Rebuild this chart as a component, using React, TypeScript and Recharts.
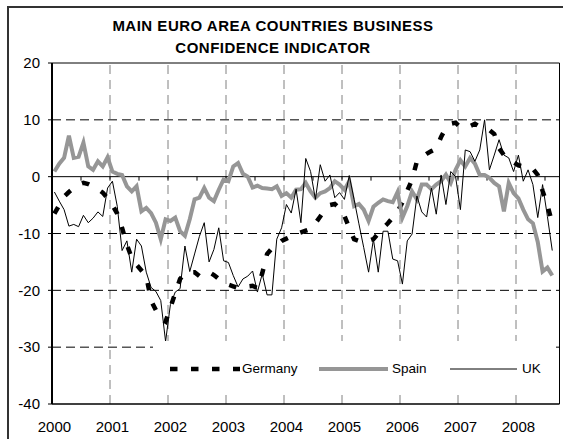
import { LineChart, Line, XAxis, YAxis, ReferenceLine } from "recharts"

// monthly readings, Jan 2000 .. Aug 2008
const germany = [
  -6.5, -5, -3.5, -2.7, -2, -1.4, -1.1, -1.3, -1.7, -2.2, -2.8, -3.8,
  -5, -6.5, -9, -12, -14.3, -15.5, -16.5, -17.5, -21.8, -23.5, -25, -25.5,
  -23, -20.5, -18, -17, -16.8, -16.8, -17.5, -17.2, -16.8, -17.3, -18, -18.5,
  -19, -19.3, -19.6, -19.5, -19.3, -19.2, -19.6, -17, -13.6, -12.6, -12, -11.3,
  -10.9, -10.5, -10.1, -9.8, -9.5, -9.2, -8.2, -7, -5.8, -5, -4.8, -5.6,
  -6.9, -9, -11, -11.3, -11.4, -11.3, -11, -10, -9, -8.2, -7.2, -6.2,
  -4.5, -2.5, -0.5, 2.7, 3.4, 4, 4.5, 4.9, 7, 8.6, 9.3, 9.5,
  8.7, 8.8, 8.9, 9.3, 8.8, 8.5, 8.2, 7.5, 5, 3.8, 3.2, 2.5,
  2, 1.8, 1.7, 1.4, 0.3, -2.5, -5, -8.2,
]

const spain = [
  0.9, 2.3, 3.3, 7.2, 3.3, 3.5, 6.0, 1.8, 1.2, 2.7, 1.8, 3.4,
  0.9, 0.5, 0.3, -1.7, -2.6, -1.7, -6.1, -5.5, -6.4, -8.1, -11, -7.5,
  -7.8, -7.2, -9.6, -10.4, -7.5, -4, -3.7, -2, -3.7, -4.3, -2.3, -0.5,
  -0.8, 1.8, 2.4, 0.5, 0, -1.9, -1.6, -2, -2.1, -2.2, -1.7, -3.4,
  -2.9, -3.7, -2.3, -2.2, -1.1, -2.6, -3.7, -2.9, -2.6, -2, -0.8, -1.4,
  -2.3, -0.8, -5.2, -4.8, -5.8, -7.8, -5.3, -4.6, -4.0, -4.3, -4.5, -2.7,
  -7.2, -5.2, -2.6, -4, -1.4, -1.4, -2.2, -1.4, -0.8, 0.35, -1.1, 1.2,
  2.9, 1.8, 3.3, 2.3, 0.3, 0.3, -0.2, -1.1, -1.7, -6.1, -1.1, -2.9,
  -3.8, -5.8, -7.5, -8.2, -11.5, -16.7, -16, -17.4,
]

const uk = [
  -2.7, -4.3, -5.8, -8.7, -8.4, -8.8, -6.8, -8.1, -7.3, -6.2, -7, -2,
  -0.8, -5.2, -13, -11.3, -16.8, -11, -12.2, -16.8, -19.5, -20.2, -21.8, -29,
  -22.5, -20.3, -19.7, -12.2, -16.7, -13.6, -10.5, -8.1, -15, -12.8, -9, -14.8,
  -15.1, -17.4, -19.4, -18, -17.5, -16.6, -20.3, -17.1, -20.8, -20.8, -11, -9,
  -4.9, -6.4, -2.2, -8.1, 3.2, 0.9, -4, 2.1, -0.8, 0.3, -3.7, -2.8,
  -4, 0.2, -4, -8.3, -12.5, -16.8, -11, -16.8, -9.6, -9.6, -14.5, -14.8,
  -18.9, -11.3, -10.1, -3.4, -6.2, -7.1, -2, -6.6, 0.3, -4.9, 0.9, 0,
  -5.8, 4.7, 4.4, 2.7, 4.7, 10, 1.2, 3.8, 6.5, 3.8, 3.3, 0.9,
  3.8, -0.8, 1.2, -1.4, -7.2, -1.4, -7, -13,
]

const years = ["2000", "2001", "2002", "2003", "2004", "2005", "2006", "2007", "2008"]
const yTicks = [-40, -30, -20, -10, 0, 10, 20]
const dashedLevels = [10, -10, -20, -30]
const MONTHS = 105

const data = germany.map((g, i) => ({ t: i + 0.5, germany: g, spain: spain[i], uk: uk[i] }))
const yearTicks = years.map((_, i) => i * 12 + 0.5)
const yearBounds = years.slice(1).map((_, i) => (i + 1) * 12)
const halfYears = Array.from({ length: 17 }, (_, i) => (i + 1) * 6)

const font = "'Liberation Sans', Arial, sans-serif"
const GER_DASH = "7.5 13.5"

const legendItems = [
  { name: "Germany", stroke: "#000", width: 4.5, dash: GER_DASH, x: 17, len: 70, tx: 89 },
  { name: "Spain", stroke: "#969696", width: 4, dash: undefined, x: 166, len: 69, tx: 239 },
  { name: "UK", stroke: "#000", width: 1, dash: undefined, x: 297, len: 67, tx: 369 },
]

const Legend = () => (
  <div style={{ position: "absolute", left: 153, top: 341, width: 398, height: 48, background: "#fff" }}>
    {legendItems.map((it) => (
      <div key={it.name}>
        <svg width={it.len} height={8} style={{ position: "absolute", left: it.x, top: 23.5 }}>
          <line x1={0} y1={4} x2={it.len} y2={4} stroke={it.stroke} strokeWidth={it.width} strokeDasharray={it.dash} />
        </svg>
        <span style={{ position: "absolute", left: it.tx, top: 19.5, fontSize: 13.5, lineHeight: "16px", fontFamily: font, whiteSpace: "nowrap" }}>
          {it.name}
        </span>
      </div>
    ))}
  </div>
)

export default function App() {
  return (
    <div style={{ position: "absolute", left: 0, top: 0, width: 563, height: 439, overflow: "hidden", background: "#fff" }}>
      <div style={{ position: "absolute", left: 7, top: 6, width: 620, height: 520, border: "2px solid #333" }} />
      <div
        style={{
          position: "absolute", left: 0, top: 15, width: 546, textAlign: "center",
          fontFamily: font, fontWeight: "bold", fontSize: 15, lineHeight: "22px", letterSpacing: 0.5,
        }}
      >
        MAIN EURO AREA COUNTRIES BUSINESS
        <br />
        CONFIDENCE INDICATOR
      </div>
      <div style={{ position: "absolute", left: 0, top: 0 }}>
        <LineChart width={563} height={439} data={data} margin={{ top: 63, right: 3.5, bottom: 0, left: 0 }}>
          <XAxis
            dataKey="t" type="number" domain={[0, MONTHS]} ticks={yearTicks} interval={0}
            tickFormatter={(v: number) => years[Math.round((v - 0.5) / 12)]}
            height={35} tickLine={false} tickSize={6} tickMargin={11}
            axisLine={{ stroke: "#000", strokeWidth: 1.5 }}
            tick={{ fill: "#000", fontSize: 15, fontFamily: font }}
          />
          <YAxis
            type="number" domain={[-40, 20]} ticks={yTicks} interval={0} width={52}
            tickSize={4} tickMargin={8}
            axisLine={{ stroke: "#000", strokeWidth: 2 }} tickLine={{ stroke: "#000" }}
            tick={{ fill: "#000", fontSize: 15, fontFamily: font }}
          />
          {yearBounds.map((x) => (
            <ReferenceLine key={"v" + x} x={x} stroke="#808080" strokeDasharray="9 6" />
          ))}
          {dashedLevels.map((y) => (
            <ReferenceLine key={"h" + y} y={y} stroke="#000" strokeDasharray="9 5" />
          ))}
          <ReferenceLine y={0} stroke="#000" />
          <ReferenceLine y={20} stroke="#000" />
          <ReferenceLine x={MONTHS} stroke="#000" />
          {halfYears.map((x) => (
            <ReferenceLine key={"k" + x} segment={[{ x, y: 0 }, { x, y: -0.7 }]} stroke="#000" />
          ))}
          <Line dataKey="germany" type="linear" stroke="#000" strokeWidth={4.5} strokeDasharray={GER_DASH} dot={false} isAnimationActive={false} />
          <Line dataKey="spain" type="linear" stroke="#969696" strokeWidth={4} dot={false} isAnimationActive={false} />
          <Line dataKey="uk" type="linear" stroke="#000" strokeWidth={1} dot={false} isAnimationActive={false} />
        </LineChart>
      </div>
      <Legend />
    </div>
  )
}
